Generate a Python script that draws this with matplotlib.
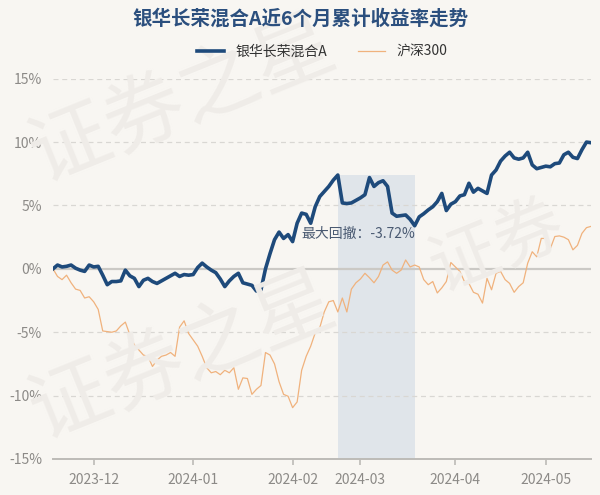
import matplotlib
matplotlib.use("Agg")
import matplotlib.pyplot as plt
import numpy as np

plt.rcParams['font.family'] = ['Noto Sans CJK SC', 'DejaVu Sans']

title = "银华长荣混合A近6个月累计收益率走势"
fund_name = "银华长荣混合A"
index_name = "沪深300"
dd_label = "最大回撤：-3.72%"

tick_pos = [9, 31, 53, 68, 89, 109]
tick_labels = ["2023-12", "2024-01", "2024-02", "2024-03", "2024-04", "2024-05"]
y_ticks = [-15, -10, -5, 0, 5, 10, 15]
y_labels = ["-15%", "-10%", "-5%", "0%", "5%", "10%", "15%"]

fund = [0.0, 0.3, 0.15, 0.2, 0.3, 0.05, -0.1, -0.2, 0.3, 0.15,
        0.2, -0.5, -1.25, -1.0, -1.0, -0.95, -0.1, -0.55, -0.75, -1.4,
        -0.9, -0.75, -1.0, -1.15, -0.95, -0.75, -0.55, -0.35, -0.6, -0.45,
        -0.5, -0.45, 0.1, 0.45, 0.15, -0.1, -0.3, -0.8, -1.4, -0.95,
        -0.6, -0.35, -1.1, -1.2, -1.3, -1.75, -1.65, 0.0, 1.2, 2.3,
        2.9, 2.4, 2.7, 2.15, 3.6, 4.4, 4.3, 3.6, 4.9, 5.7,
        6.1, 6.5, 7.0, 7.4, 5.2, 5.15, 5.2, 5.4, 5.6, 5.85,
        7.2, 6.5, 6.8, 6.95, 6.5, 4.4, 4.15, 4.2, 4.25, 3.9,
        3.4, 4.1, 4.35, 4.65, 4.9, 5.3, 5.95, 4.6, 5.1, 5.3,
        5.75, 5.85, 6.75, 6.05, 6.35, 6.15, 5.95, 7.4, 7.8, 8.5,
        8.9, 9.2, 8.75, 8.65, 8.75, 9.2, 8.2, 7.9, 8.0, 8.1,
        8.05, 8.3, 8.35, 9.0, 9.2, 8.8, 8.7, 9.4, 10.0, 9.95]

hs300 = [0.0, -0.6, -0.85, -0.5, -1.1, -1.6, -1.7, -2.3, -2.2, -2.6,
         -3.2, -4.9, -4.95, -5.0, -4.9, -4.5, -4.2, -5.2, -6.0, -6.4,
         -6.8, -6.9, -7.7, -7.2, -6.9, -6.8, -6.6, -6.9, -4.6, -4.1,
         -5.1, -5.6, -6.1, -6.9, -7.8, -8.2, -8.1, -8.35, -8.0, -8.2,
         -7.8, -9.5, -8.6, -8.65, -9.9, -9.5, -9.2, -6.6, -6.8, -7.5,
         -8.9, -9.9, -10.05, -10.95, -10.5, -8.0, -6.9, -6.1, -5.05, -4.65,
         -3.4, -2.6, -2.5, -3.4, -2.3, -3.4, -1.6, -1.1, -0.8, -0.35,
         -0.7, -1.1, -0.6, 0.3, 0.55, -0.1, -0.35, -0.1, 0.7, 0.15,
         0.3, 0.15, -0.85, -1.25, -1.0, -1.9, -1.5, -1.0, 0.5, 0.15,
         -0.2, -1.0, -1.15, -1.85, -2.0, -2.7, -0.75, -1.65, -0.35, -0.2,
         -0.85, -1.15, -1.85, -1.4, -1.1, 0.45, 1.35, 0.95, 2.4, 2.4,
         1.6, 2.55, 2.6, 2.5, 2.3, 1.5, 1.85, 2.8, 3.25, 3.35]

bg = '#f8f6f2'
W, H = 600, 495
fig = plt.figure(figsize=(W / 100, H / 100), dpi=100, facecolor=bg)

# watermark
wm_color = '#efece8'
fig.text(0.03, 0.60, "证券之星", fontsize=58, color=wm_color, rotation=22,
         ha='left', va='bottom', zorder=0)
fig.text(0.03, 0.08, "证券之星", fontsize=58, color=wm_color, rotation=22,
         ha='left', va='bottom', zorder=0)
fig.text(0.70, 0.38, "证券", fontsize=50, color=wm_color, rotation=22,
         ha='left', va='bottom', zorder=0)

ax = fig.add_axes([53 / W, (H - 459) / H, (591 - 53) / W, (459 - 78.7) / H])
ax.set_facecolor('none')
x = np.arange(len(fund))
ax.set_xlim(0, len(fund) - 1)
ax.set_ylim(-15, 15)

# max drawdown region computed from data
f = np.array(fund)
wealth = 1 + f / 100
runmax = np.maximum.accumulate(wealth)
dd = wealth / runmax - 1
trough = int(np.argmin(dd))
peak = int(np.argmax(wealth[:trough + 1]))
ax.fill_between([peak, trough], [-15, -15], [fund[peak], fund[peak]],
                color='#e0e5ea', zorder=1, linewidth=0)
ax.text(trough, 2.75, dd_label, ha='right', va='center', fontsize=10,
        color='#4a5a72', zorder=5)

for yv in [-10, -5, 5, 10, 15]:
    ax.axhline(yv, color='#d9d7d3', linestyle=(0, (4, 3)), linewidth=0.9, zorder=1)
ax.axhline(0, color='#cbc9c5', linewidth=1.6, zorder=2)

ax.plot(x, hs300, color='#f0b27d', linewidth=0.9, zorder=3, label=index_name)
ax.plot(x, fund, color='#1e4a7b', linewidth=2.6, zorder=4, label=fund_name,
        solid_joinstyle='round')

for s in ['left', 'right', 'top']:
    ax.spines[s].set_visible(False)
ax.spines['bottom'].set_color('#bdbbb7')
ax.spines['bottom'].set_linewidth(1.4)

ax.set_yticks(y_ticks)
ax.set_yticklabels(y_labels)
ax.set_xticks(tick_pos)
ax.set_xticklabels(tick_labels)
ax.tick_params(axis='y', length=0, pad=8, labelsize=10, labelcolor='#8c8a87')
ax.tick_params(axis='x', length=4, width=1.2, color='#bdbbb7', pad=6,
               labelsize=10, labelcolor='#8c8a87')

fig.text(0.5, 1 - 19 / H, title, ha='center', va='center', fontsize=14,
         fontweight='bold', color='#2b4f7e')

handles, labels = ax.get_legend_handles_labels()
fig.legend(handles[::-1], labels[::-1], loc='center', ncol=2,
           bbox_to_anchor=(322 / W, 1 - 52 / H), frameon=False, fontsize=10,
           handlelength=2.0, columnspacing=2.2, labelcolor='#333333')

fig.savefig('out.png', dpi=100, facecolor=bg)
